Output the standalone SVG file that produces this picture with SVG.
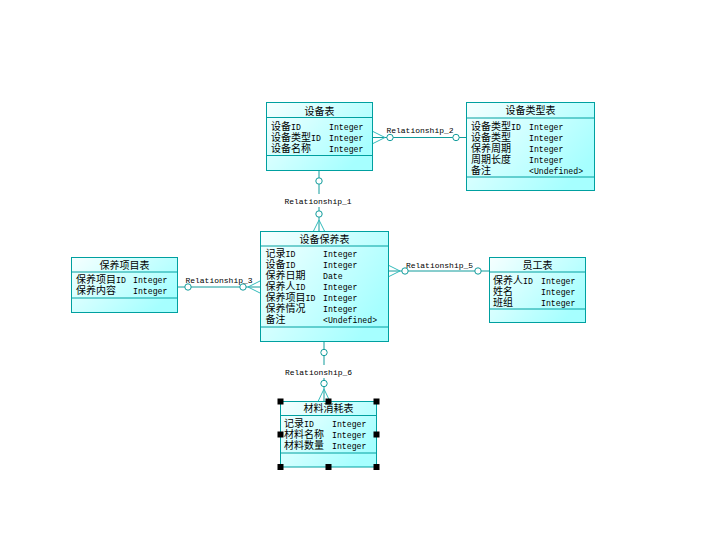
<svg xmlns="http://www.w3.org/2000/svg" width="721" height="537" viewBox="0 0 721 537">
<defs>
<linearGradient id="g" x1="0" y1="0" x2="1" y2="0.6">
<stop offset="0" stop-color="#f6ffff"/>
<stop offset="1" stop-color="#a6ffff"/>
</linearGradient>
<style>
.box{fill:url(#g);stroke:#00a0a0;stroke-width:1}
.sep{stroke:#00a0a0;stroke-width:1}
.ln{stroke:#119c9c;stroke-width:1;fill:none}
.cf{stroke:#33bbbb;stroke-width:1;fill:none}
.ci{fill:#fff;stroke:#119c9c;stroke-width:1}
.t{font-family:"Liberation Mono","Noto Sans CJK SC",monospace;font-size:8.2px;fill:#000}
.c{font-family:"Noto Sans CJK SC",sans-serif;font-size:10px}
.ti{font-family:"Noto Sans CJK SC",sans-serif;font-size:10px;fill:#000;text-anchor:middle}
.lb{font-family:"Liberation Mono",monospace;font-size:8px;fill:#000;text-anchor:middle}
.h{fill:#000}
</style>
</defs>
<rect width="721" height="537" fill="#fff"/>
<g id="connectors">
<!-- R1 -->
<line class="ln" x1="319" y1="171" x2="319" y2="232"/>
<polyline class="cf" points="313,232 319,220 325,232"/>
<circle class="ci" cx="319" cy="181" r="3.2"/>
<circle class="ci" cx="319" cy="214" r="3.2"/>
<rect x="283" y="194" width="70" height="13" fill="#fff"/>
<text class="lb" x="318" y="203.5">Relationship_1</text>
<!-- R2 -->
<line class="ln" x1="372" y1="137.5" x2="466" y2="137.5"/>
<polyline class="cf" points="372,131 385,137.5 372,144"/>
<circle class="ci" cx="390" cy="137.5" r="3.2"/>
<circle class="ci" cx="456" cy="137.5" r="3.2"/>
<text class="lb" x="420" y="133">Relationship_2</text>
<!-- R3 -->
<line class="ln" x1="177" y1="287" x2="260" y2="287"/>
<polyline class="cf" points="260,281 248,287 260,293"/>
<circle class="ci" cx="188" cy="287" r="3.2"/>
<circle class="ci" cx="243" cy="287" r="3.2"/>
<text class="lb" x="219" y="283">Relationship_3</text>
<!-- R5 -->
<line class="ln" x1="388" y1="271" x2="489" y2="271"/>
<polyline class="cf" points="388,265 400,271 388,277"/>
<circle class="ci" cx="405" cy="271" r="3.2"/>
<circle class="ci" cx="478" cy="271" r="3.2"/>
<text class="lb" x="439.5" y="267.5">Relationship_5</text>
<!-- R6 -->
<line class="ln" x1="324" y1="342" x2="324" y2="401.5"/>
<polyline class="cf" points="318,401.5 324,389 330,401.5"/>
<circle class="ci" cx="324" cy="352.5" r="3.2"/>
<circle class="ci" cx="324" cy="383.5" r="3.2"/>
<rect x="285" y="365" width="70" height="13" fill="#fff"/>
<text class="lb" x="318.5" y="375">Relationship_6</text>
</g>
<g id="设备表">
<rect class="box" x="266.5" y="102.5" width="106" height="68"/>
<line class="sep" x1="266.5" y1="117.5" x2="372.5" y2="117.5"/>
<line class="sep" x1="266.5" y1="155.5" x2="372.5" y2="155.5"/>
<text class="ti" x="319.5" y="114.5">设备表</text>
<text class="t" x="271" y="129.5"><tspan class="c">设备</tspan>ID</text>
<text class="t" x="329" y="129.5">Integer</text>
<text class="t" x="271" y="140.5"><tspan class="c">设备类型</tspan>ID</text>
<text class="t" x="329" y="140.5">Integer</text>
<text class="t" x="271" y="151.5"><tspan class="c">设备名称</tspan></text>
<text class="t" x="329" y="151.5">Integer</text>
</g>
<g id="设备类型表">
<rect class="box" x="466.5" y="102.5" width="128" height="88"/>
<line class="sep" x1="466.5" y1="118" x2="594.5" y2="118"/>
<line class="sep" x1="466.5" y1="177" x2="594.5" y2="177"/>
<text class="ti" x="530.5" y="113.5">设备类型表</text>
<text class="t" x="471" y="129.5"><tspan class="c">设备类型</tspan>ID</text>
<text class="t" x="529" y="129.5">Integer</text>
<text class="t" x="471" y="140.5"><tspan class="c">设备类型</tspan></text>
<text class="t" x="529" y="140.5">Integer</text>
<text class="t" x="471" y="151.5"><tspan class="c">保养周期</tspan></text>
<text class="t" x="529" y="151.5">Integer</text>
<text class="t" x="471" y="162.5"><tspan class="c">周期长度</tspan></text>
<text class="t" x="529" y="162.5">Integer</text>
<text class="t" x="471" y="173.5"><tspan class="c">备注</tspan></text>
<text class="t" x="529" y="173.5">&lt;Undefined&gt;</text>
</g>
<g id="设备保养表">
<rect class="box" x="260.5" y="231.5" width="128" height="110"/>
<line class="sep" x1="260.5" y1="246" x2="388.5" y2="246"/>
<line class="sep" x1="260.5" y1="327" x2="388.5" y2="327"/>
<text class="ti" x="324.5" y="242.5">设备保养表</text>
<text class="t" x="265.5" y="257"><tspan class="c">记录</tspan>ID</text>
<text class="t" x="323" y="257">Integer</text>
<text class="t" x="265.5" y="268"><tspan class="c">设备</tspan>ID</text>
<text class="t" x="323" y="268">Integer</text>
<text class="t" x="265.5" y="279"><tspan class="c">保养日期</tspan></text>
<text class="t" x="323" y="279">Date</text>
<text class="t" x="265.5" y="290"><tspan class="c">保养人</tspan>ID</text>
<text class="t" x="323" y="290">Integer</text>
<text class="t" x="265.5" y="301"><tspan class="c">保养项目</tspan>ID</text>
<text class="t" x="323" y="301">Integer</text>
<text class="t" x="265.5" y="312"><tspan class="c">保养情况</tspan></text>
<text class="t" x="323" y="312">Integer</text>
<text class="t" x="265.5" y="323"><tspan class="c">备注</tspan></text>
<text class="t" x="323" y="323">&lt;Undefined&gt;</text>
</g>
<g id="保养项目表">
<rect class="box" x="71.5" y="257.5" width="106" height="55"/>
<line class="sep" x1="71.5" y1="272" x2="177.5" y2="272"/>
<line class="sep" x1="71.5" y1="298" x2="177.5" y2="298"/>
<text class="ti" x="124.5" y="268.5">保养项目表</text>
<text class="t" x="76" y="283"><tspan class="c">保养项目</tspan>ID</text>
<text class="t" x="133" y="283">Integer</text>
<text class="t" x="76" y="294"><tspan class="c">保养内容</tspan></text>
<text class="t" x="133" y="294">Integer</text>
</g>
<g id="员工表">
<rect class="box" x="489.5" y="257.5" width="96" height="65"/>
<line class="sep" x1="489.5" y1="272" x2="585.5" y2="272"/>
<line class="sep" x1="489.5" y1="309" x2="585.5" y2="309"/>
<text class="ti" x="537.5" y="268.5">员工表</text>
<text class="t" x="493" y="283.5"><tspan class="c">保养人</tspan>ID</text>
<text class="t" x="541" y="283.5">Integer</text>
<text class="t" x="493" y="294.5"><tspan class="c">姓名</tspan></text>
<text class="t" x="541" y="294.5">Integer</text>
<text class="t" x="493" y="305.5"><tspan class="c">班组</tspan></text>
<text class="t" x="541" y="305.5">Integer</text>
</g>
<g id="材料消耗表">
<rect class="box" x="280.5" y="401.5" width="96" height="65.5"/>
<line class="sep" x1="280.5" y1="415.5" x2="376.5" y2="415.5"/>
<line class="sep" x1="280.5" y1="453" x2="376.5" y2="453"/>
<text class="ti" x="328.5" y="411.5">材料消耗表</text>
<text class="t" x="284" y="426.5"><tspan class="c">记录</tspan>ID</text>
<text class="t" x="332" y="426.5">Integer</text>
<text class="t" x="284" y="437.5"><tspan class="c">材料名称</tspan></text>
<text class="t" x="332" y="437.5">Integer</text>
<text class="t" x="284" y="448.5"><tspan class="c">材料数量</tspan></text>
<text class="t" x="332" y="448.5">Integer</text>
<rect class="h" x="277.5" y="398.5" width="6" height="6"/>
<rect class="h" x="325.5" y="398.5" width="6" height="6"/>
<rect class="h" x="373.5" y="398.5" width="6" height="6"/>
<rect class="h" x="277.5" y="431.5" width="6" height="6"/>
<rect class="h" x="373.5" y="431.5" width="6" height="6"/>
<rect class="h" x="277.5" y="464" width="6" height="6"/>
<rect class="h" x="325.5" y="464" width="6" height="6"/>
<rect class="h" x="373.5" y="464" width="6" height="6"/>
</g>
</svg>
